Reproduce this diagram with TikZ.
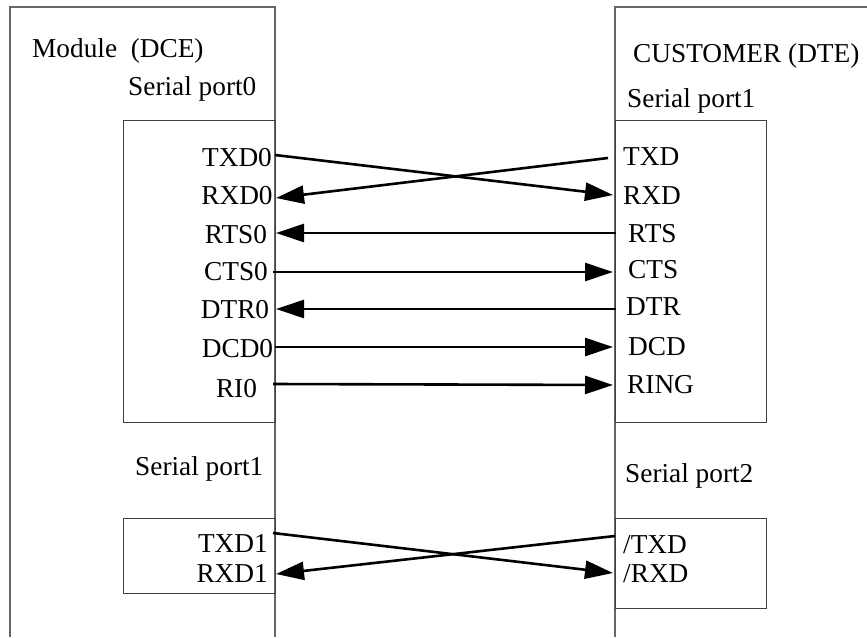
\documentclass[tikz,border=0pt]{standalone}
\usepackage{fontspec}
\setmainfont{Liberation Serif}
\usetikzlibrary{arrows.meta}
\tikzset{
  outerline/.style={draw=black!60, line width=1.1pt},
  boxline/.style={draw=black!75, line width=0.9pt},
  lbl/.style={inner sep=0pt, font=\fontsize{27.3}{30}\selectfont},
  sig/.style={line width=2.6pt, -{Triangle[length=28pt,width=18pt]}}
}
\begin{document}
\begin{tikzpicture}[x=1pt,y=-1pt]
\useasboundingbox (0,0) rectangle (867,637);
% outer frames
\draw[outerline] (10,637) -- (10,7) -- (275,7) -- (275,637);
\draw[outerline] (867,7) -- (615,7) -- (615,637);
% inner boxes
\draw[boxline] (123,120) rectangle (275,422);
\draw[boxline] (615,120) rectangle (766,422);
\draw[boxline] (123,518) rectangle (275,593);
\draw[boxline] (615,518) rectangle (766,608);
% headings
\node[lbl, anchor=base west] (modt) at (32,57) {Module~~(DCE)};
\node[lbl, anchor=base west] (sp0) at (128,95) {Serial port0};
\node[lbl, anchor=base west] (cust) at (633,62) {CUSTOMER (DTE)};
\node[lbl, anchor=base west] (sp1r) at (627,107) {Serial port1};
\node[lbl, anchor=base west] (sp1l) at (135,475) {Serial port1};
\node[lbl, anchor=base west] (sp2r) at (625,482) {Serial port2};
% left signal labels
\node[lbl, anchor=base] (ltxd) at (237,166) {TXD0};
\node[lbl, anchor=base] (lrxd) at (237,204) {RXD0};
\node[lbl, anchor=base] (lrts) at (236,243) {RTS0};
\node[lbl, anchor=base] (lcts) at (236,280) {CTS0};
\node[lbl, anchor=base] (ldtr) at (235,318) {DTR0};
\node[lbl, anchor=base] (ldcd) at (237.5,357) {DCD0};
\node[lbl, anchor=base] (lri) at (236.5,397) {RI0};
\node[lbl, anchor=base east] (ltxd1) at (268,552) {TXD1};
\node[lbl, anchor=base east] (lrxd1) at (268,582) {RXD1};
% right signal labels
\node[lbl, anchor=base west] (rtxd) at (623,165) {TXD};
\node[lbl, anchor=base west] (rrxd) at (623,204) {RXD};
\node[lbl, anchor=base west] (rrts) at (628,242) {RTS};
\node[lbl, anchor=base west] (rcts) at (628,278) {CTS};
\node[lbl, anchor=base west] (rdtr) at (626,315) {DTR};
\node[lbl, anchor=base west] (rdcd) at (628,355) {DCD};
\node[lbl, anchor=base west] (rring) at (627,393) {RING};
\node[lbl, anchor=base west] (rtxd2) at (623,553) {/TXD};
\node[lbl, anchor=base west] (rrxd2) at (623,582) {/RXD};
% pin coordinates
\coordinate (pl1) at (275,155);
\coordinate (pl2) at (276,198);
\coordinate (pl3) at (276,233);
\coordinate (pl4) at (273,272);
\coordinate (pl5) at (276,309);
\coordinate (pl6) at (275,347);
\coordinate (pl7) at (273,384);
\coordinate (pl8) at (273,533);
\coordinate (pl9) at (276,574);
\coordinate (pr1) at (608,158);
\coordinate (pr2) at (613,195);
\coordinate (pr3) at (616,233);
\coordinate (pr4) at (613,272);
\coordinate (pr5) at (616,309);
\coordinate (pr6) at (613,347);
\coordinate (pr7) at (613,385);
\coordinate (pr8) at (615,536);
\coordinate (pr9) at (613,573);
% connectors
\draw[sig] (pl1) -- (pr2);
\draw[sig] (pr1) -- (pl2);
\draw[sig] (pr3) -- (pl3);
\draw[sig] (pl4) -- (pr4);
\draw[sig] (pr5) -- (pl5);
\draw[sig] (pl6) -- (pr6);
\draw[sig] (pl7) -- (pr7);
\draw[sig] (pl8) -- (pr9);
\draw[sig] (pr8) -- (pl9);
\end{tikzpicture}
\end{document}
